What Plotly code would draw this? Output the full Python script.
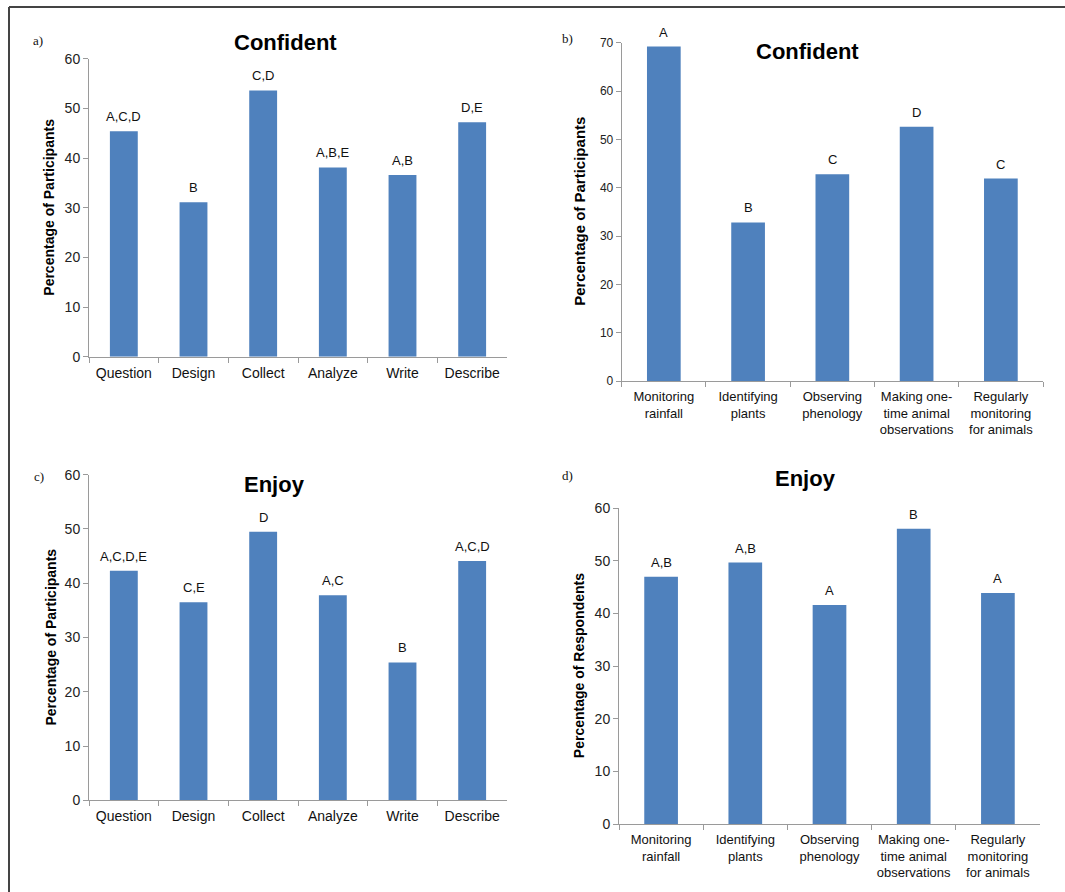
import plotly.graph_objects as go

W, H = 1065, 892

# Panel a / c categories
steps = ["Question", "Design", "Collect", "Analyze", "Write", "Describe"]
conf_a = [45.4, 31.1, 53.6, 38.1, 36.6, 47.2]
conf_a_letters = ["A,C,D", "B", "C,D", "A,B,E", "A,B", "D,E"]
enjoy_c = [42.3, 36.5, 49.5, 37.8, 25.4, 44.1]
enjoy_c_letters = ["A,C,D,E", "C,E", "D", "A,C", "B", "A,C,D"]

# Panel b / d categories
activities = ["Monitoring<br>rainfall", "Identifying<br>plants", "Observing<br>phenology",
              "Making one-<br>time animal<br>observations", "Regularly<br>monitoring<br>for animals"]
conf_b = [69.2, 32.8, 42.8, 52.6, 41.9]
conf_b_letters = ["A", "B", "C", "D", "C"]
enjoy_d = [47.0, 49.7, 41.6, 56.1, 43.9]
enjoy_d_letters = ["A,B", "A,B", "A", "B", "A"]

BAR = "#4F81BD"
AX = "#9A9A9A"
FONT = "Liberation Sans, Arial, sans-serif"

def px_x(x):
    return x / W

def px_y(y):
    return 1 - y / H

panels = [
    dict(cats=steps, vals=conf_a, letters=conf_a_letters, xr=(89, 507), yr=(58.7, 356.7), ymax=60,
         title="Confident", tpos=(285, 42), ytitle="Percentage of Participants", ytx=49,
         lab="a)", lpos=(38, 40), tf=14, cf=14, ytf=14),
    dict(cats=activities, vals=conf_b, letters=conf_b_letters, xr=(621.7, 1043), yr=(42.7, 381), ymax=70,
         title="Confident", tpos=(807, 52), ytitle="Percentage of Participants", ytx=580,
         lab="b)", lpos=(567, 38), tf=12, cf=13, ytf=15),
    dict(cats=steps, vals=enjoy_c, letters=enjoy_c_letters, xr=(89, 507), yr=(474.7, 800.3), ymax=60,
         title="Enjoy", tpos=(274, 484), ytitle="Percentage of Participants", ytx=50,
         lab="c)", lpos=(39, 476), tf=14, cf=14, ytf=14),
    dict(cats=activities, vals=enjoy_d, letters=enjoy_d_letters, xr=(619, 1040), yr=(508.3, 824), ymax=60,
         title="Enjoy", tpos=(805, 478), ytitle="Percentage of Respondents", ytx=579,
         lab="d)", lpos=(567, 475), tf=14, cf=13, ytf=14),
]

fig = go.Figure()
annotations = []
layout = {}
for i, p in enumerate(panels):
    n = i + 1
    xa = "x" if n == 1 else f"x{n}"
    ya = "y" if n == 1 else f"y{n}"
    xkey = "xaxis" if n == 1 else f"xaxis{n}"
    ykey = "yaxis" if n == 1 else f"yaxis{n}"
    fig.add_trace(go.Bar(x=p["cats"], y=p["vals"], width=0.4, marker=dict(color=BAR, line=dict(width=0)),
                         xaxis=xa, yaxis=ya, showlegend=False, hoverinfo="skip"))
    layout[xkey] = dict(domain=[px_x(p["xr"][0]), px_x(p["xr"][1])], anchor=ya, type="category",
                        range=[-0.5, len(p["cats"]) - 0.5], showline=True, linecolor=AX, linewidth=1,
                        ticks="outside", tickson="boundaries", ticklen=5, tickcolor=AX,
                        ticklabelstandoff=3,
                        showgrid=False, zeroline=False, automargin=False,
                        tickfont=dict(family=FONT, size=p["cf"], color="#111"), fixedrange=True)
    layout[ykey] = dict(domain=[px_y(p["yr"][1]), px_y(p["yr"][0])], anchor=xa, range=[0, p["ymax"]],
                        dtick=10, showline=True, linecolor=AX, linewidth=1, ticks="outside", ticklen=5,
                        tickcolor=AX, showgrid=False, zeroline=False, automargin=False,
                        tickfont=dict(family=FONT, size=p["tf"], color="#222"), fixedrange=True)
    for c, v, t in zip(p["cats"], p["vals"], p["letters"]):
        annotations.append(dict(x=c, y=v, xref=xa, yref=ya, text=t, showarrow=False, yanchor="bottom",
                                yshift=5, font=dict(family=FONT, size=13, color="#111")))
    annotations.append(dict(x=px_x(p["tpos"][0]), y=px_y(p["tpos"][1]), xref="paper", yref="paper",
                            text=f"<b>{p['title']}</b>", showarrow=False, xanchor="center", yanchor="middle",
                            font=dict(family=FONT, size=22, color="#000")))
    annotations.append(dict(x=px_x(p["ytx"]), y=px_y((p["yr"][0] + p["yr"][1]) / 2), xref="paper", yref="paper",
                            text=f"<b>{p['ytitle']}</b>", showarrow=False, textangle=-90,
                            xanchor="center", yanchor="middle",
                            font=dict(family=FONT, size=p["ytf"], color="#000")))
    annotations.append(dict(x=px_x(p["lpos"][0]), y=px_y(p["lpos"][1]), xref="paper", yref="paper",
                            text=p["lab"], showarrow=False, xanchor="center", yanchor="middle",
                            font=dict(family="Liberation Serif, Times New Roman, serif", size=13, color="#111")))

shapes = [
    dict(type="line", xref="paper", yref="paper", x0=px_x(9), x1=1, y0=px_y(7), y1=px_y(7),
         line=dict(color="#444", width=2)),
    dict(type="line", xref="paper", yref="paper", x0=px_x(9), x1=px_x(9), y0=px_y(7), y1=0,
         line=dict(color="#444", width=2)),
]

fig.update_layout(width=W, height=H, margin=dict(l=0, r=0, t=0, b=0, autoexpand=False),
                  paper_bgcolor="white", plot_bgcolor="white", annotations=annotations, shapes=shapes,
                  showlegend=False, **layout)
fig.write_html("out.html", config={"displayModeBar": False},
               post_script="document.body.style.margin='0';document.body.style.overflow='hidden';")
